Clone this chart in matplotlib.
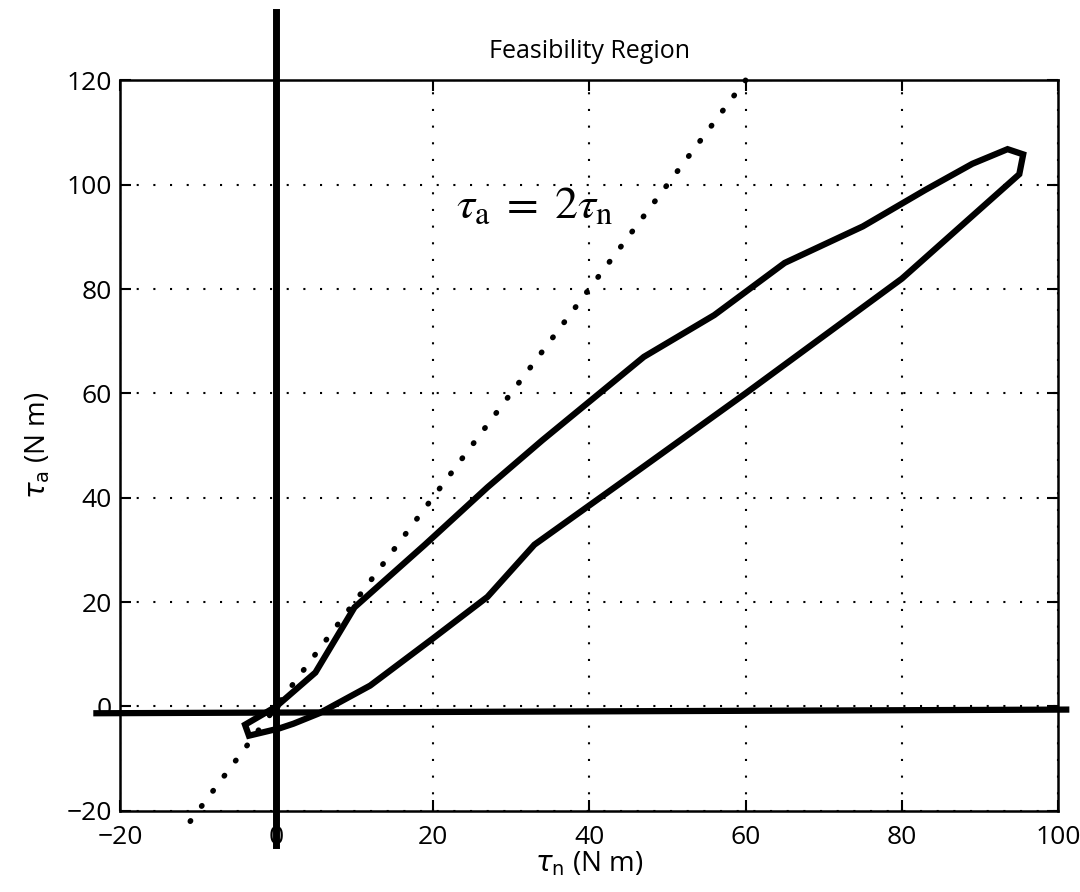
import matplotlib
matplotlib.use('Agg')
import matplotlib.pyplot as plt
import numpy as np

# outline of the feasible set (tau_n, tau_a)
region_x = [0, 5, 10, 19, 27, 34, 47, 56, 65, 75, 83, 89, 93.5, 95.5, 95,
            89, 80, 60, 47, 33, 27, 20, 12, 5.5, 2.2, 0.4, -3.5, -4, 0]
region_y = [0, 6.5, 19, 31, 42, 51, 67, 75, 85, 92, 99, 104, 106.8, 105.8, 102,
            94, 82, 60, 46, 31, 21, 13, 4, -1.3, -3.3, -4.2, -5.6, -3.5, 0]

# tau_a = 2 tau_n reference line
ref_x = np.array([-11, 60])
ref_y = 2 * ref_x

# hand drawn axes through the origin
hline_x = [-23, 101]
hline_y = [-1.3, -0.6]
vline_x = [0, 0]
vline_y = [-26.5, 133]

xticks = [-20, 0, 20, 40, 60, 80, 100]
yticks = [-20, 0, 20, 40, 60, 80, 100, 120]

plt.rcParams['font.family'] = ['Open Sans', 'DejaVu Sans']
plt.rcParams['mathtext.fontset'] = 'dejavusans'

fig = plt.figure(figsize=(10.8, 8.92), dpi=100)
ax = fig.add_axes([0.111, 0.091, 0.869, 0.819])

ax.plot(region_x, region_y, color='black', lw=4.5, solid_joinstyle='miter')
ax.plot(ref_x, ref_y, color='black', lw=4, linestyle=(0, (0.1, 3.3)),
        dash_capstyle='round', clip_on=False)
ax.plot(hline_x, hline_y, color='black', lw=4.5, clip_on=False)
ax.plot(vline_x, vline_y, color='black', lw=5, clip_on=False)

ax.set_xlim(-20, 100)
ax.set_ylim(-20, 120)
ax.set_xticks(xticks)
ax.set_yticks(yticks)
ax.grid(True, color='black', linestyle=(0, (1, 7)), lw=1.5)
ax.tick_params(direction='in', length=8, width=1.5, top=True, right=True,
               labelsize=19)
ax.tick_params(axis='x', pad=10)
ax.tick_params(axis='y', pad=6)
for s in ax.spines.values():
    s.set_linewidth(1.8)

ax.set_title('Feasibility Region', fontsize=18, pad=16)
ax.set_xlabel(r'$\tau_{\rm n}$ (N m)', fontsize=20, labelpad=0)
ax.set_ylabel(r'$\tau_{\rm a}$ (N m)', fontsize=20, labelpad=10)

ax.text(23, 96, r'$\tau_{\rm a} \;=\; 2\tau_{\rm n}$', fontsize=33,
        math_fontfamily='stix', va='center', ha='left')

fig.savefig('out.png', dpi=100)
